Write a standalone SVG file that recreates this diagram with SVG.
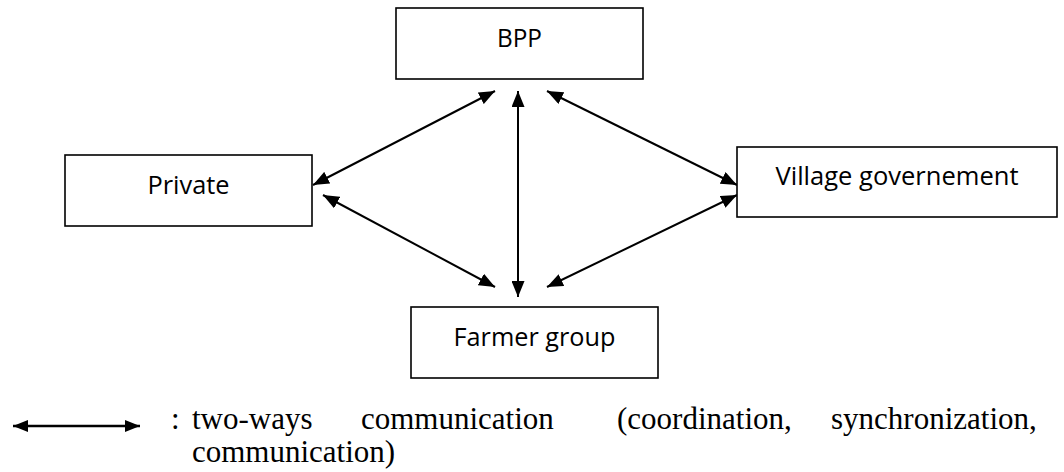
<svg xmlns="http://www.w3.org/2000/svg" width="1064" height="472" viewBox="0 0 1064 472">
<style>
.box{fill:#fff;stroke:#000;stroke-width:1.6}
.lbl{font-family:"Open Sans","Noto Sans",sans-serif;font-size:25.5px;fill:#000;text-anchor:middle}
.con{stroke:#000;stroke-width:2;fill:none;marker-start:url(#ah);marker-end:url(#ah)}
.leg{font-family:"Liberation Serif","Times New Roman",serif;font-size:31px;fill:#000}
</style>
<defs>
<marker id="ah" markerUnits="userSpaceOnUse" markerWidth="17" markerHeight="13" refX="16" refY="6.5" orient="auto-start-reverse">
<path d="M0,0 L16,6.5 L0,13 z" fill="#000"/>
</marker>
<marker id="lh" markerUnits="userSpaceOnUse" markerWidth="16" markerHeight="12" refX="15" refY="6" orient="auto-start-reverse">
<path d="M0,0 L15,6 L0,12 z" fill="#000"/>
</marker>
</defs>
<g id="connectors">
<line class="con" x1="495" y1="91" x2="313" y2="185"/>
<line class="con" x1="518" y1="91" x2="518" y2="297"/>
<line class="con" x1="547" y1="91" x2="737" y2="185"/>
<line class="con" x1="323" y1="195" x2="495" y2="287"/>
<line class="con" x1="737" y1="195" x2="547" y2="287"/>
</g>
<g id="bpp">
<rect class="box" x="396" y="8" width="247" height="71"/>
<text class="lbl" x="519.5" y="47" textLength="45" lengthAdjust="spacingAndGlyphs">BPP</text>
</g>
<g id="private">
<rect class="box" x="65" y="155" width="247" height="71"/>
<text class="lbl" x="188.5" y="194" textLength="82" lengthAdjust="spacingAndGlyphs">Private</text>
</g>
<g id="village">
<rect class="box" x="737" y="147" width="320" height="70"/>
<text class="lbl" x="897" y="185" textLength="243" lengthAdjust="spacingAndGlyphs">Village governement</text>
</g>
<g id="farmer">
<rect class="box" x="411" y="307" width="247" height="71"/>
<text class="lbl" x="534.5" y="346" textLength="162" lengthAdjust="spacingAndGlyphs">Farmer group</text>
</g>
<g id="legend">
<line x1="13" y1="426" x2="140" y2="426" stroke="#000" stroke-width="2.6" marker-start="url(#lh)" marker-end="url(#lh)"/>
<text class="leg" y="429"><tspan x="171">:</tspan><tspan x="192">two-ways</tspan><tspan x="361">communication</tspan><tspan x="617">(coordination,</tspan><tspan x="831">synchronization,</tspan></text>
<text class="leg" x="192" y="462">communication)</text>
</g>
</svg>
